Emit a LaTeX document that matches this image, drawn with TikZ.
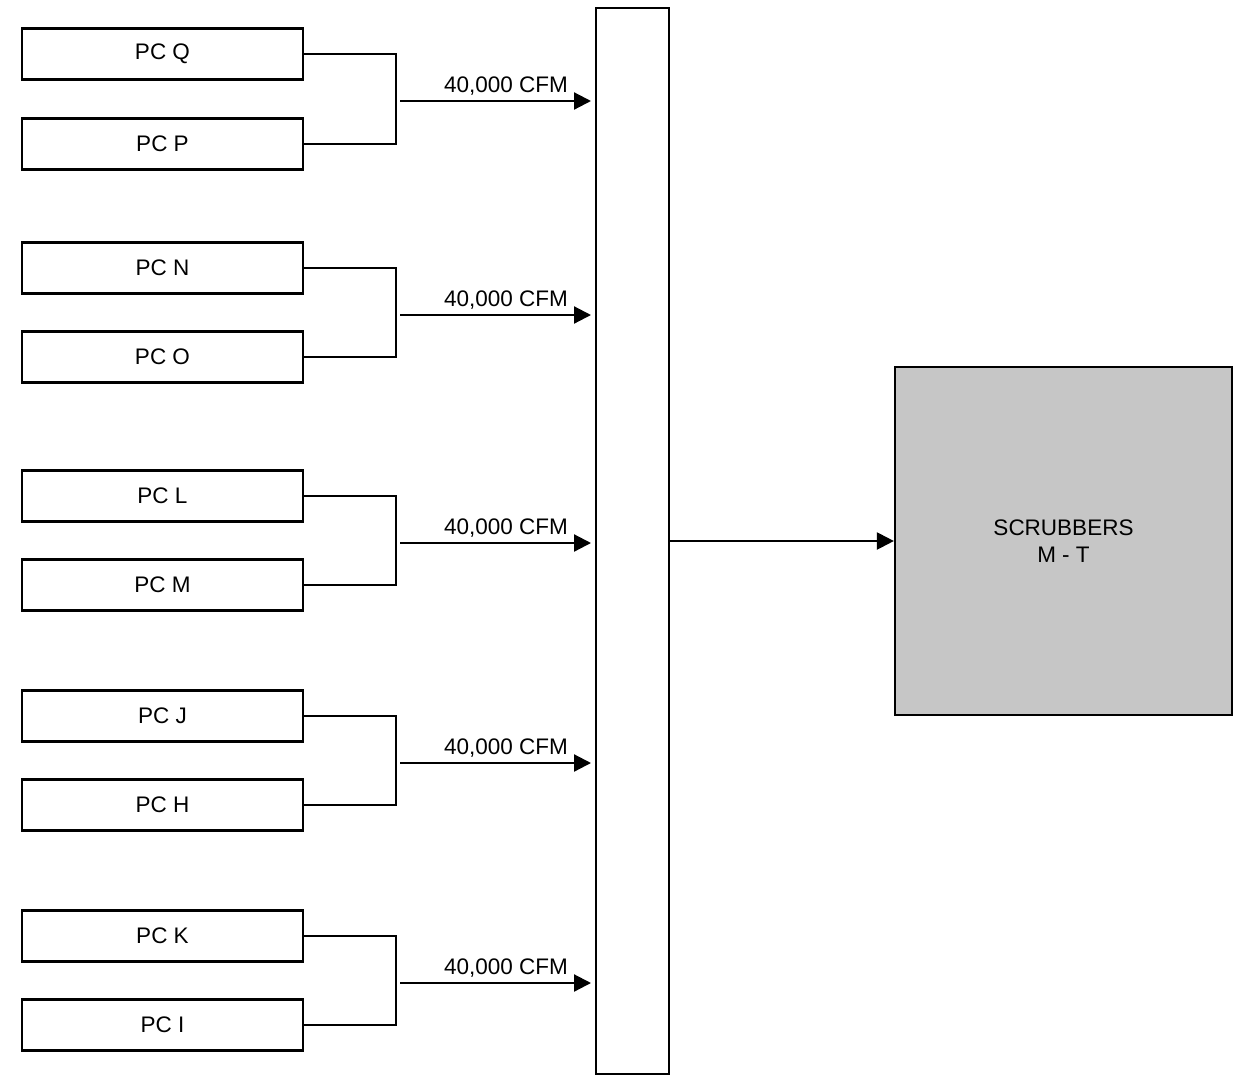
\documentclass[tikz,border=0pt]{standalone}
\usepackage{fontspec}
\setmainfont{Liberation Sans}
\usetikzlibrary{arrows.meta}
\begin{document}
\begin{tikzpicture}[x=1pt,y=-1pt,
  pcbox/.style={draw,line width=2.2pt,minimum width=281pt,minimum height=51pt,inner sep=0pt,font=\fontsize{22.5}{27}\selectfont},
  wire/.style={line width=2.2pt},
  flow/.style={line width=2.2pt,-{Triangle[length=17pt,width=17pt]}},
  lbl/.style={font=\fontsize{22.5}{27}\selectfont,inner sep=0pt}]
\useasboundingbox (0,0) rectangle (1258,1087);
% bus
\node[draw,line width=2.2pt,minimum width=73pt,minimum height=1066pt,inner sep=0pt] (bus) at (632.5,541) {};
% scrubbers
\node[draw,line width=2.2pt,fill={rgb,255:red,198;green,198;blue,198},minimum width=337pt,minimum height=348pt,inner sep=0pt,align=center,font=\fontsize{22.5}{27.5}\selectfont] (scr) at (1063.5,541) {SCRUBBERS\\M - T};
\coordinate (busout) at (669,541);
\draw[flow] (busout) -- (scr.west |- busout);
% PC boxes
\foreach \name/\txt/\y in {q/PC Q/54, p/PC P/144, n/PC N/268, o/PC O/357, l/PC L/496, m/PC M/585, j/PC J/716, h/PC H/805, k/PC K/936, i/PC I/1025}{
  \node[pcbox] (\name) at (162.5,\y) {\txt};
}
% brackets and arrows
\foreach \a/\b/\ay/\k in {q/p/101/1, n/o/315/2, l/m/543/3, j/h/763/4, k/i/983/5}{
  \coordinate (ja\k) at (396,\ay);
  \draw[wire] (\a.east) -| (396,0 |- \b.east) -- (\b.east);
  \coordinate (tip\k) at (591,\ay);
  \draw[flow] (ja\k) ++(4,0) coordinate (st\k) -- (tip\k);
  \node[lbl,anchor=base] (cfm\k) at (506,\ay-9) {40,000 CFM};
}
\end{tikzpicture}
\end{document}
